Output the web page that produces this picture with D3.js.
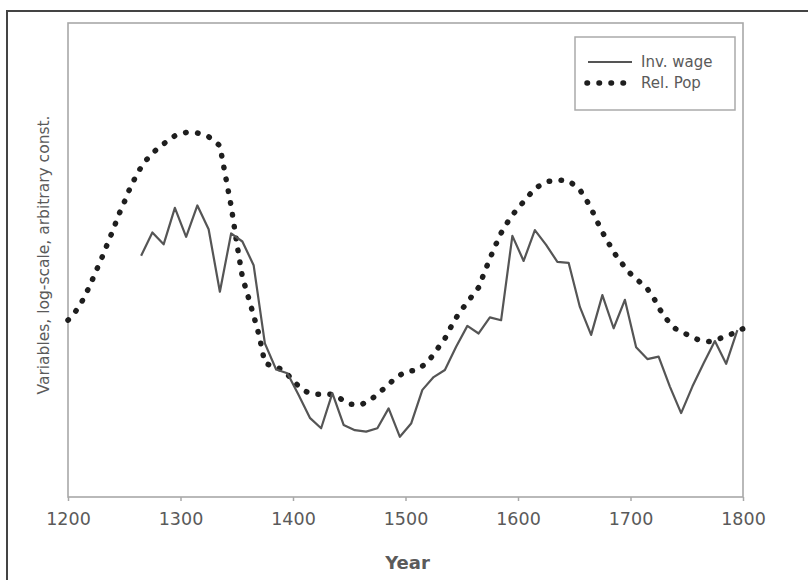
<!DOCTYPE html>
<html>
<head>
<meta charset="utf-8">
<script src="https://cdn.jsdelivr.net/npm/d3@7"></script>
<style>
  body { margin: 0; background: #fff; }
  text { font-family: 'DejaVu Sans', sans-serif; fill: #5a5a5a; }
</style>
</head>
<body>
<svg width="808" height="580"></svg>
<script>
// inverse real wage, one point roughly every 10 years
const wageYears = [1265, 1275, 1285, 1295, 1305, 1315, 1325, 1335, 1345, 1355,
    1365, 1375, 1385, 1395, 1405, 1415, 1425, 1435, 1445, 1455,
    1465, 1475, 1485, 1495, 1505, 1515, 1525, 1535, 1545, 1555,
    1565, 1575, 1585, 1595, 1605, 1615, 1625, 1635, 1645, 1655,
    1665, 1675, 1685, 1695, 1705, 1715, 1725, 1735, 1745, 1755,
    1765, 1775, 1785, 1795];
const wageValues = [5.09, 5.58, 5.33, 6.10, 5.49, 6.15, 5.65, 4.33, 5.56, 5.39,
    4.89, 3.24, 2.69, 2.61, 2.15, 1.67, 1.45, 2.19, 1.52, 1.41,
    1.38, 1.45, 1.87, 1.27, 1.55, 2.26, 2.53, 2.68, 3.17, 3.61,
    3.45, 3.79, 3.73, 5.51, 4.98, 5.63, 5.32, 4.96, 4.94, 4.01,
    3.42, 4.26, 3.56, 4.16, 3.16, 2.91, 2.96, 2.33, 1.77, 2.33,
    2.82, 3.29, 2.81, 3.52];

// relative population, every 5 years from 1200 to 1800
const popStart = 1200;
const popStep = 5;
const popValues = [
    3.73, 3.86, 4.02, 4.24, 4.49, 4.77, 5.04, 5.34, 5.63, 5.95,
    6.22, 6.51, 6.75, 6.96, 7.12, 7.25, 7.36, 7.45, 7.54, 7.62,
    7.66, 7.69, 7.69, 7.68, 7.64, 7.60, 7.51, 7.41, 6.77, 6.14,
    5.36, 4.64, 4.24, 3.83, 3.40, 2.82, 2.78, 2.76, 2.68, 2.59,
    2.45, 2.34, 2.24, 2.19, 2.17, 2.17, 2.18, 2.16, 2.11, 2.03,
    1.96, 1.95, 1.94, 2.00, 2.07, 2.17, 2.27, 2.37, 2.49, 2.57,
    2.64, 2.66, 2.68, 2.76, 2.86, 3.01, 3.18, 3.34, 3.57, 3.78,
    3.96, 4.10, 4.27, 4.42, 4.73, 5.03, 5.31, 5.57, 5.77, 5.95,
    6.09, 6.23, 6.37, 6.51, 6.58, 6.65, 6.67, 6.69, 6.68, 6.67,
    6.58, 6.48, 6.30, 6.09, 5.83, 5.59, 5.38, 5.17, 5.00, 4.85,
    4.71, 4.60, 4.50, 4.39, 4.23, 4.00, 3.81, 3.67, 3.55, 3.49,
    3.43, 3.37, 3.32, 3.29, 3.28, 3.31, 3.35, 3.39, 3.44, 3.51,
    3.55];

const xTicks = [1200, 1300, 1400, 1500, 1600, 1700, 1800];
const seriesNames = ['Inv. wage', 'Rel. Pop'];

const svg = d3.select('svg');
const width = +svg.attr('width');
const height = +svg.attr('height');

const margin = { top: 23, right: 65, bottom: 83, left: 68 };
const innerWidth = width - margin.left - margin.right;
const innerHeight = height - margin.top - margin.bottom;

const wageData = wageYears.map((y, i) => ({ year: y, value: wageValues[i] }));
const popData = popValues.map((v, i) => ({ year: popStart + i * popStep, value: v }));

// outer frame of the figure (only top and left edges show)
svg.append('path')
    .attr('d', `M7,${height} V11 H${width}`)
    .attr('fill', 'none')
    .attr('stroke', '#444')
    .attr('stroke-width', 2);

const xScale = d3.scaleLinear()
    .domain([1200, 1800])
    .range([0, innerWidth]);

const yScale = d3.scaleLinear()
    .domain([0, 10])
    .range([innerHeight, 0]);

const g = svg.append('g')
    .attr('transform', `translate(${margin.left},${margin.top})`);

// plot box
g.append('rect')
    .attr('width', innerWidth)
    .attr('height', innerHeight)
    .attr('fill', 'none')
    .attr('stroke', '#a8a8a8')
    .attr('stroke-width', 1.6);

const xAxis = d3.axisBottom(xScale)
    .tickValues(xTicks)
    .tickFormat(d3.format('d'))
    .tickSize(4)
    .tickPadding(12);

const xAxisG = g.append('g').call(xAxis)
    .attr('transform', `translate(0,${innerHeight})`);
xAxisG.select('.domain').remove();
xAxisG.selectAll('line').attr('stroke', '#a8a8a8').attr('stroke-width', 1.5);
xAxisG.selectAll('text')
    .attr('font-size', 17.5)
    .attr('font-family', 'DejaVu Sans, sans-serif')
    .attr('fill', '#555');

g.append('text')
    .attr('x', xScale(1500) + 2)
    .attr('y', innerHeight + 72)
    .attr('text-anchor', 'middle')
    .attr('font-size', 18)
    .attr('font-weight', 'bold')
    .attr('fill', '#777')
    .text('Year');

g.append('text')
    .attr('transform', 'rotate(-90)')
    .attr('x', -232)
    .attr('y', -19)
    .attr('text-anchor', 'middle')
    .attr('font-size', 15.5)
    .attr('fill', '#666')
    .text('Variables, log-scale, arbitrary const.');

const line = d3.line()
    .x(d => xScale(d.year))
    .y(d => yScale(d.value));

g.append('path')
    .datum(popData)
    .attr('d', line)
    .attr('fill', 'none')
    .attr('stroke', '#1e1e1e')
    .attr('stroke-width', 5.5)
    .attr('stroke-linecap', 'round')
    .attr('stroke-dasharray', '0.5,11.5');

g.append('path')
    .datum(wageData)
    .attr('d', line)
    .attr('fill', 'none')
    .attr('stroke', '#555')
    .attr('stroke-width', 2.2)
    .attr('stroke-linejoin', 'round');

// legend
const legend = svg.append('g')
    .attr('transform', 'translate(575,37)');

legend.append('rect')
    .attr('width', 160)
    .attr('height', 73)
    .attr('fill', '#fff')
    .attr('stroke', '#aaa')
    .attr('stroke-width', 1.5);

legend.append('line')
    .attr('x1', 13).attr('x2', 57)
    .attr('y1', 25).attr('y2', 25)
    .attr('stroke', '#555')
    .attr('stroke-width', 2.2);

legend.append('line')
    .attr('x1', 12).attr('x2', 52)
    .attr('y1', 46).attr('y2', 46)
    .attr('stroke', '#1e1e1e')
    .attr('stroke-width', 5.5)
    .attr('stroke-linecap', 'round')
    .attr('stroke-dasharray', '0.5,11.5');

legend.selectAll('text.item').data(seriesNames)
    .enter().append('text')
    .attr('class', 'item')
    .attr('x', 66)
    .attr('y', (d, i) => 25 + i * 21)
    .attr('dy', '0.35em')
    .attr('font-size', 15)
    .attr('fill', '#666')
    .text(d => d);
</script>
</body>
</html>
